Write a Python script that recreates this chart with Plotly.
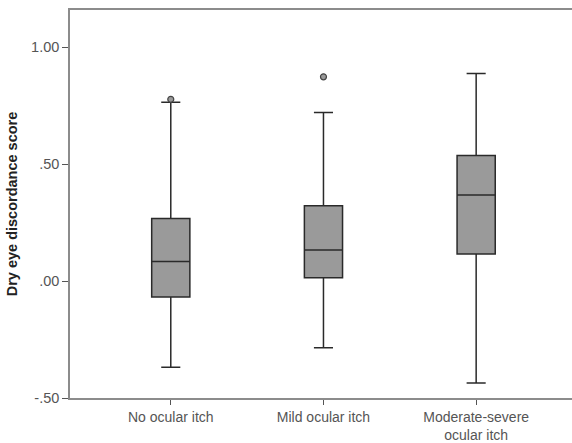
import plotly.graph_objects as go

categories = ["No ocular itch", "Mild ocular itch", "Moderate-severe<br>ocular itch"]
lower_whisker = [-0.368, -0.285, -0.436]
q1_vals = [-0.068, 0.014, 0.116]
medians = [0.084, 0.133, 0.368]
q3_vals = [0.268, 0.322, 0.537]
upper_whisker = [0.765, 0.722, 0.888]
outlier_cats = ["No ocular itch", "Mild ocular itch"]
outlier_vals = [0.778, 0.874]
ytick_vals = [-0.5, 0.0, 0.5, 1.0]
ytick_text = ["-.50", ".00", ".50", "1.00"]

fig = go.Figure()
fig.add_trace(go.Box(
    x=categories,
    q1=q1_vals, median=medians, q3=q3_vals,
    lowerfence=lower_whisker, upperfence=upper_whisker,
    fillcolor="#9a9a9a",
    line=dict(color="#2a2a2a", width=1.5),
    width=0.25,
    whiskerwidth=0.5,
    boxpoints=False,
    showlegend=False,
    hoverinfo="skip",
))
fig.add_trace(go.Scatter(
    x=outlier_cats,
    y=outlier_vals,
    mode="markers",
    marker=dict(symbol="circle", size=6, color="#9a9a9a", line=dict(color="#444444", width=1.2)),
    showlegend=False,
    hoverinfo="skip",
))

fig.update_layout(
    width=578, height=443,
    margin=dict(l=70, r=0, t=10, b=42),
    plot_bgcolor="white", paper_bgcolor="white",
    font=dict(family="Liberation Sans, Arial, sans-serif", size=14, color="#555555"),
    xaxis=dict(
        type="category",
        categoryorder="array", categoryarray=categories,
        range=[-0.66, 2.667],
        showline=True, linecolor="#8c8c8c", linewidth=1.5, mirror=True,
        ticks="outside", ticklen=5, tickcolor="#555555", tickwidth=1.2,
        showgrid=False, zeroline=False,
        tickfont=dict(size=14, color="#555555"),
    ),
    yaxis=dict(
        range=[-0.5, 1.16],
        tickvals=ytick_vals, ticktext=ytick_text,
        showline=True, linecolor="#8c8c8c", linewidth=1.5,
        ticks="outside", ticklen=6, tickcolor="#555555", tickwidth=1.2,
        showgrid=False, zeroline=False,
        tickfont=dict(size=14.5, color="#555555"),
        title=dict(text="<b>Dry eye discordance score</b>", font=dict(size=14.5, color="#222222"), standoff=10),
    ),
)
fig.write_html(
    "out.html",
    config={"displayModeBar": False},
    post_script="document.body.style.margin='0px';document.body.style.overflow='hidden';",
)
